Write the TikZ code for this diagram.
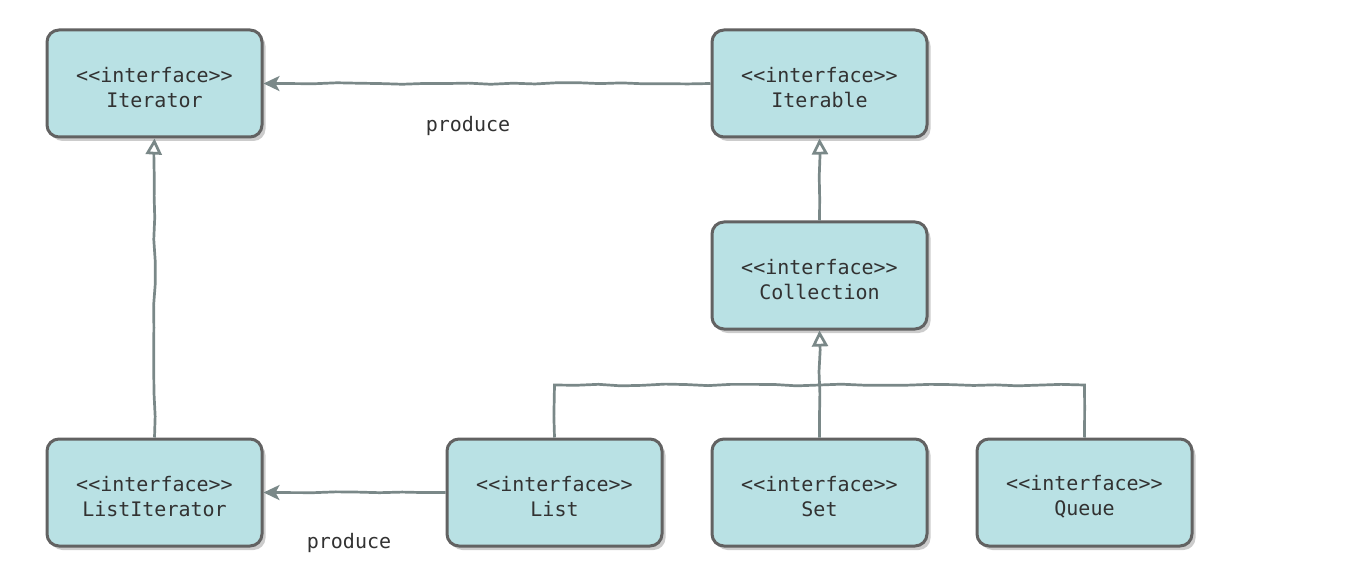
\documentclass[tikz,border=0pt]{standalone}
\usepackage{fontspec}
\setmonofont{DejaVu Sans Mono}
\usetikzlibrary{arrows.meta,shadows,decorations.pathmorphing}
\definecolor{boxfill}{RGB}{185,225,228}
\definecolor{boxline}{RGB}{98,98,98}
\definecolor{edgecol}{RGB}{122,136,136}
\definecolor{textcol}{RGB}{50,50,50}
\begin{document}
\begin{tikzpicture}[x=1pt,y=-1pt,
  iface/.style={draw=boxline, line width=3pt, fill=boxfill, rounded corners=12pt,
    minimum width=215pt, minimum height=107pt, align=center, text height=49pt,
    font=\ttfamily\fontsize{20}{25}\selectfont, text=textcol,
    drop shadow={shadow xshift=3.5pt, shadow yshift=-4pt, fill=black, opacity=0.2}},
  wire/.style={draw=edgecol, line width=2.7pt, decorate,
    decoration={random steps, segment length=22pt, amplitude=0.9pt}},
  produces/.style={wire, -{Stealth[length=16pt, width=15pt, inset=4pt]}},
  extends/.style={wire, -{Triangle[open, length=16pt, width=16pt, fill=white]}},
  lbl/.style={font=\ttfamily\fontsize{20}{25}\selectfont, text=textcol},
]
\useasboundingbox[fill=white] (0,0) rectangle (1352,580);

% interface boxes
\node[iface] (iterator)     at (154.5,83.5)  {<<interface>>\\Iterator};
\node[iface] (iterable)     at (819.5,83.5)  {<<interface>>\\Iterable};
\node[iface] (collection)   at (819.5,275.5) {<<interface>>\\Collection};
\node[iface] (listiterator) at (154.5,492.5) {<<interface>>\\ListIterator};
\node[iface] (list)         at (554.5,492.5) {<<interface>>\\List};
\node[iface] (set)          at (819.5,492.5) {<<interface>>\\Set};
\node[iface] (queue)        at (1084.5,492.5){<<interface>>\\Queue};

% "produce" dependencies
\draw[produces] (iterable.west) -- (iterator.east);
\node[lbl] (prod1) at (468,126) {produce};
\draw[produces] (list.west) -- (listiterator.east);
\node[lbl] (prod2) at (349,543) {produce};

% inheritance
\draw[extends] (listiterator.north) -- (iterator.south);
\draw[extends] (collection.north) -- (iterable.south);
\coordinate (bus) at (819.5,385);
\draw[wire] (list.north) |- (bus) -| (queue.north);
\draw[extends] (set.north) -- (collection.south);
\end{tikzpicture}
\end{document}
